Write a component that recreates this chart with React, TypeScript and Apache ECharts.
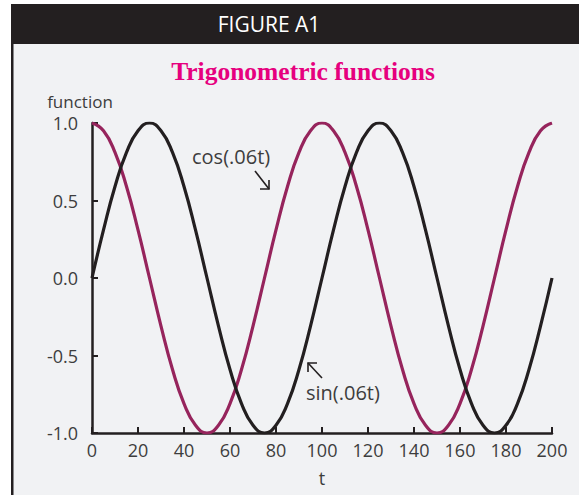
import React, { useEffect, useRef } from "react";
import * as echarts from "echarts";

const tValues = [0,5,10,15,20,25,30,35,40,45,50,55,60,65,70,75,80,85,90,95,100,105,110,115,120,125,130,135,140,145,150,155,160,165,170,175,180,185,190,195,200];
const cosValues = [1,0.95,0.81,0.59,0.31,0,-0.31,-0.59,-0.81,-0.95,-1,-0.95,-0.81,-0.59,-0.31,0,0.31,0.59,0.81,0.95,1,0.95,0.81,0.59,0.31,0,-0.31,-0.59,-0.81,-0.95,-1,-0.95,-0.81,-0.59,-0.31,0,0.31,0.59,0.81,0.95,1];
const sinValues = [0,0.31,0.59,0.81,0.95,1,0.95,0.81,0.59,0.31,0,-0.31,-0.59,-0.81,-0.95,-1,-0.95,-0.81,-0.59,-0.31,0,0.31,0.59,0.81,0.95,1,0.95,0.81,0.59,0.31,0,-0.31,-0.59,-0.81,-0.95,-1,-0.95,-0.81,-0.59,-0.31,0];
const seriesNames = ["cos(.06t)", "sin(.06t)"];
const headerText = "FIGURE A1";
const titleText = "Trigonometric functions";

const FONT = "Open Sans";
const AXIS = "#231f20";
const LABEL = "#3d3d3d";

export default function App() {
  const ref = useRef<HTMLDivElement>(null);
  useEffect(() => {
    if (!ref.current) return;
    const chart = echarts.init(ref.current, null, { renderer: "svg" });
    chart.setOption({
      animation: false,
      backgroundColor: "#ffffff",
      title: {
        text: titleText,
        left: 298,
        textAlign: "center",
        top: 53,
        textStyle: { fontFamily: "Liberation Serif", fontWeight: "bold", fontSize: 25.5, color: "#e6007e" },
      },
      grid: { left: 92, top: 123, right: 27, bottom: 62, containLabel: false },
      xAxis: {
        type: "value",
        min: 0,
        max: 200,
        interval: 20,
        name: "t",
        nameLocation: "middle",
        nameGap: 36,
        nameTextStyle: { fontFamily: FONT, fontSize: 18, color: LABEL },
        axisLine: { onZero: false, lineStyle: { color: AXIS, width: 2.5 } },
        axisTick: { inside: true, length: 6, lineStyle: { color: AXIS, width: 2 } },
        axisLabel: { fontFamily: FONT, fontSize: 18, color: LABEL, margin: 8 },
        splitLine: { show: false },
      },
      yAxis: {
        type: "value",
        min: -1,
        max: 1,
        interval: 0.5,
        name: "function",
        nameLocation: "end",
        nameGap: 13,
        nameTextStyle: { fontFamily: FONT, fontSize: 17, color: LABEL, align: "center", padding: [0, 24, 0, 0] },
        axisLine: { lineStyle: { color: AXIS, width: 2.5 } },
        axisTick: { inside: true, length: 6, lineStyle: { color: AXIS, width: 2 } },
        axisLabel: { fontFamily: FONT, fontSize: 18, color: LABEL, margin: 14, formatter: (v: number) => v.toFixed(1) },
        splitLine: { show: false },
      },
      series: [
        {
          name: seriesNames[0],
          type: "line",
          smooth: true,
          showSymbol: false,
          data: tValues.map((t, i) => [t, cosValues[i]]),
          lineStyle: { color: "#96245c", width: 3.2 },
          z: 2,
        },
        {
          name: seriesNames[1],
          type: "line",
          smooth: true,
          showSymbol: false,
          data: tValues.map((t, i) => [t, sinValues[i]]),
          lineStyle: { color: "#231f20", width: 3.2 },
          z: 3,
        },
      ],
      graphic: [
        { type: "rect", shape: { x: 11, y: 4, width: 568, height: 491 }, style: { fill: "#f1f2f4" }, z: -10 },
        { type: "rect", shape: { x: 11, y: 4, width: 568, height: 40 }, style: { fill: "#231f20" }, z: -9 },
        { type: "rect", shape: { x: 11, y: 44, width: 2.5, height: 451 }, style: { fill: "#231f20" }, z: -9 },
        {
          type: "text",
          x: 269,
          y: 24,
          style: { text: headerText, fill: "#ffffff", font: `21px ${FONT}`, textAlign: "center", textVerticalAlign: "middle" },
        },
        {
          type: "text",
          x: 192,
          y: 156,
          style: { text: seriesNames[0], fill: LABEL, font: `20px ${FONT}`, textAlign: "left", textVerticalAlign: "middle" },
        },
        { type: "line", shape: { x1: 255, y1: 171, x2: 269, y2: 189 }, style: { stroke: AXIS, lineWidth: 1.6 } },
        { type: "polyline", shape: { points: [[260, 189], [269, 189], [269, 180]] }, style: { stroke: AXIS, lineWidth: 1.6, fill: "none" } },
        {
          type: "text",
          x: 306,
          y: 392,
          style: { text: seriesNames[1], fill: LABEL, font: `20px ${FONT}`, textAlign: "left", textVerticalAlign: "middle" },
        },
        { type: "line", shape: { x1: 322, y1: 378, x2: 308, y2: 363 }, style: { stroke: AXIS, lineWidth: 1.6 } },
        { type: "polyline", shape: { points: [[308, 372], [308, 363], [317, 363]] }, style: { stroke: AXIS, lineWidth: 1.6, fill: "none" } },
      ],
    });
    return () => chart.dispose();
  }, []);
  return <div ref={ref} style={{ position: "fixed", left: 0, top: 0, width: 579, height: 495 }} />;
}
